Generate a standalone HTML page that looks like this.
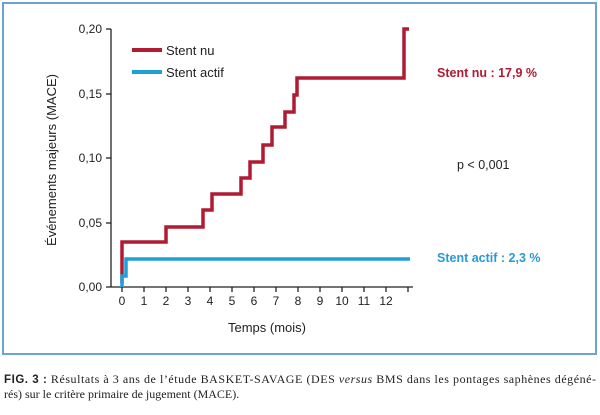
<!DOCTYPE html>
<html><head><meta charset="utf-8"><style>
body{margin:0;width:600px;height:410px;background:#fff;overflow:hidden}
</style></head><body>
<svg width="600" height="410" xmlns="http://www.w3.org/2000/svg" font-family="Liberation Sans, sans-serif">
<rect x="3" y="3" width="593" height="351" fill="none" stroke="#6aa3d4" stroke-width="2"/>
<g stroke="#222" stroke-width="1.3" fill="none">
<line x1="111" y1="29" x2="111" y2="287"/>
<line x1="106" y1="287" x2="413" y2="287"/>
<line x1="106" y1="29" x2="111" y2="29"/><line x1="106" y1="94" x2="111" y2="94"/>
<line x1="106" y1="158" x2="111" y2="158"/><line x1="106" y1="223" x2="111" y2="223"/>
<line x1="122" y1="287" x2="122" y2="292"/><line x1="144" y1="287" x2="144" y2="292"/><line x1="166" y1="287" x2="166" y2="292"/><line x1="188" y1="287" x2="188" y2="292"/><line x1="210" y1="287" x2="210" y2="292"/><line x1="232" y1="287" x2="232" y2="292"/><line x1="254" y1="287" x2="254" y2="292"/><line x1="276" y1="287" x2="276" y2="292"/><line x1="298" y1="287" x2="298" y2="292"/><line x1="320" y1="287" x2="320" y2="292"/><line x1="342" y1="287" x2="342" y2="292"/><line x1="364" y1="287" x2="364" y2="292"/><line x1="386" y1="287" x2="386" y2="292"/><line x1="408" y1="287" x2="408" y2="292"/>
</g>
<g font-size="12" fill="#222" text-anchor="end">
<text x="102" y="33">0,20</text><text x="102" y="98">0,15</text><text x="102" y="162">0,10</text><text x="102" y="227">0,05</text><text x="102" y="291">0,00</text>
</g>
<g font-size="12" fill="#222" text-anchor="middle">
<text x="122" y="305">0</text><text x="144" y="305">1</text><text x="166" y="305">2</text><text x="188" y="305">3</text><text x="210" y="305">4</text><text x="232" y="305">5</text><text x="254" y="305">6</text><text x="276" y="305">7</text><text x="298" y="305">8</text><text x="320" y="305">9</text><text x="342" y="305">10</text><text x="364" y="305">11</text><text x="386" y="305">12</text>
</g>
<text x="267" y="332" font-size="13" fill="#222" text-anchor="middle">Temps (mois)</text>
<text transform="translate(56,160) rotate(-90)" font-size="13" fill="#222" text-anchor="middle">Événements majeurs (MACE)</text>
<polyline fill="none" stroke="#b01a32" stroke-width="3.5" points="122,283 122,242 166,242 166,227 203,227 203,210 212,210 212,194 241,194 241,178 250,178 250,162 263,162 263,145 272,145 272,127 285,127 285,112 294,112 294,95 297,95 297,78 404,78 404,29 409,29"/>
<polyline fill="none" stroke="#1e9fd8" stroke-width="3.5" points="122,287 122,276 126,276 126,259 410,259"/>
<line x1="132" y1="50" x2="162" y2="50" stroke="#b01a32" stroke-width="4"/>
<line x1="132" y1="72" x2="162" y2="72" stroke="#1e9fd8" stroke-width="4"/>
<text x="166" y="55" font-size="13" fill="#222">Stent nu</text>
<text x="166" y="77" font-size="13" fill="#222">Stent actif</text>
<text x="437" y="77" font-size="12.5" font-weight="bold" fill="#b01a32">Stent nu : 17,9 %</text>
<text x="457" y="169" font-size="12.5" fill="#222">p &lt; 0,001</text>
<text x="437" y="262" font-size="12.5" font-weight="bold" fill="#2a9ad6">Stent actif : 2,3 %</text>
<g font-family="Liberation Serif, serif" font-size="12" fill="#222">
<text x="4" y="383" textLength="592" lengthAdjust="spacing"><tspan font-family="Liberation Sans, sans-serif" font-weight="bold" font-size="11.5">FIG. 3 :</tspan> Résultats à 3 ans de l’étude BASKET-SAVAGE (DES <tspan font-style="italic">versus</tspan> BMS dans les pontages saphènes dégéné-</text>
<text x="4" y="398">rés) sur le critère primaire de jugement (MACE).</text>
</g>
</svg>
</body></html>
